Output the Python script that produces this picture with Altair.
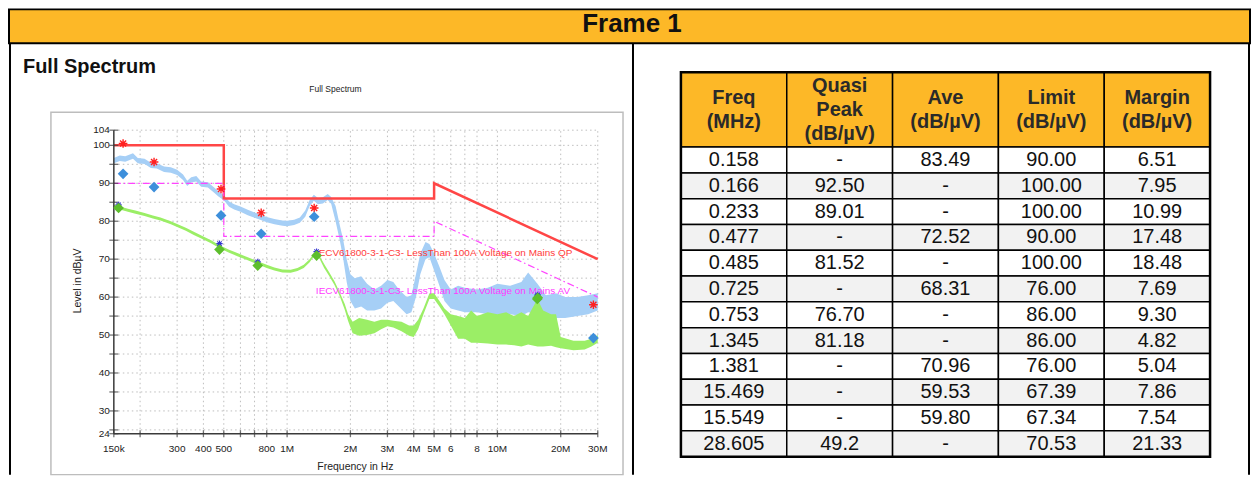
import altair as alt
import pandas as pd

FONT = "Liberation Sans, Arial, sans-serif"

# ---------------- Spectrum traces (MHz, dBµV: lower / upper envelope) ----------------
blue_f = [0.150, 0.160, 0.170, 0.185, 0.195, 0.210, 0.225, 0.240, 0.260, 0.280, 0.300, 0.320,
          0.335, 0.350, 0.370, 0.390, 0.420, 0.450, 0.470, 0.500, 0.530, 0.560, 0.600, 0.650,
          0.700, 0.750, 0.800, 0.870, 0.950, 1.000, 1.080, 1.150, 1.220, 1.280, 1.340, 1.400,
          1.480, 1.560, 1.620, 1.700, 1.780, 1.850, 1.920, 2.000, 2.100, 2.250, 2.400, 2.600,
          2.800, 3.000, 3.200, 3.400, 3.700, 3.900, 4.100, 4.300, 4.550, 4.750, 5.000, 5.300,
          5.600, 6.000, 6.500, 7.000, 8.000, 9.000, 10.00, 11.50, 13.00, 14.00, 15.50, 17.00,
          19.00, 21.00, 24.00, 27.00, 30.00]
blue_lo = [95.3, 95.9, 95.7, 96.5, 95.3, 95.1, 94.0, 93.9, 93.0, 92.8, 92.2, 90.9,
           89.3, 90.2, 90.5, 89.1, 88.9, 87.5, 86.6, 85.5, 83.8, 83.1, 82.5, 81.6,
           80.9, 80.3, 79.7, 79.2, 78.8, 78.7, 79.0, 79.6, 81.2, 84.0, 85.4, 84.5,
           84.7, 85.6, 84.6, 80.0, 75.0, 70.0, 64.0, 59.0, 57.0, 57.5, 56.5, 56.5,
           57.0, 58.5, 59.0, 57.5, 55.5, 56.0, 60.0, 66.0, 70.0, 70.5, 67.0, 63.0,
           59.0, 57.0, 56.5, 56.0, 56.0, 55.5, 55.0, 55.5, 55.0, 56.0, 55.5, 54.5,
           54.5, 54.5, 55.0, 55.5, 56.5]
blue_hi = [96.7, 97.3, 97.1, 97.9, 96.7, 96.5, 95.4, 95.3, 94.4, 94.2, 93.6, 92.3,
           90.7, 91.6, 91.9, 90.5, 90.3, 88.9, 88.0, 86.9, 85.2, 84.5, 83.9, 83.0,
           82.3, 81.7, 81.1, 80.6, 80.2, 80.1, 80.4, 81.0, 82.8, 85.6, 87.0, 86.1,
           86.3, 87.2, 86.4, 84.0, 79.0, 75.0, 70.0, 66.0, 65.0, 65.5, 63.5, 62.0,
           63.0, 64.5, 64.0, 62.0, 60.0, 60.5, 66.0, 71.5, 74.5, 74.0, 71.5, 68.0,
           64.5, 62.0, 63.0, 62.5, 62.0, 62.5, 63.5, 63.0, 64.0, 66.5, 63.5, 60.5,
           61.0, 60.0, 60.0, 60.5, 61.0]

green_f = [0.150, 0.160, 0.175, 0.190, 0.210, 0.230, 0.250, 0.280, 0.300, 0.330, 0.360, 0.400,
           0.435, 0.480, 0.530, 0.580, 0.650, 0.720, 0.800, 0.870, 0.950, 1.040, 1.120, 1.200,
           1.280, 1.340, 1.380, 1.430, 1.500, 1.580, 1.680, 1.780, 1.880, 1.950, 2.050, 2.200,
           2.400, 2.600, 2.800, 3.000, 3.200, 3.500, 3.800, 4.000, 4.200, 4.450, 4.750, 5.000,
           5.300, 5.600, 6.000, 6.500, 7.000, 7.500, 8.000, 9.000, 10.00, 11.00, 12.00, 13.00,
           14.00, 15.50, 16.50, 18.00, 19.00, 20.00, 23.00, 26.00, 28.00, 30.00]
green_lo = [83.6, 83.1, 82.5, 82.0, 81.4, 80.7, 80.2, 79.2, 78.5, 77.5, 76.4, 75.2,
            74.2, 72.8, 71.7, 70.8, 69.7, 68.7, 67.7, 67.0, 66.5, 66.4, 66.9, 67.7,
            69.2, 70.7, 71.2, 70.0, 67.7, 65.7, 63.2, 60.2, 56.7, 53.7, 50.5, 49.8,
            50.0, 50.5, 51.5, 52.3, 52.0, 51.0, 49.8, 49.5, 51.5, 55.5, 59.5, 59.5,
            57.5, 55.5, 52.5, 49.0, 49.0, 48.0, 48.0, 47.8, 47.5, 47.5, 47.3, 47.0,
            47.5, 47.0, 47.0, 47.2, 46.8, 46.5, 46.0, 46.2, 47.0, 48.0]
green_hi = [84.4, 83.9, 83.3, 82.8, 82.2, 81.5, 81.0, 80.0, 79.3, 78.3, 77.2, 76.0,
            75.0, 73.6, 72.5, 71.6, 70.5, 69.5, 68.5, 67.8, 67.3, 67.2, 67.7, 68.5,
            70.0, 71.5, 72.0, 70.8, 68.7, 66.7, 64.2, 61.2, 58.2, 55.5, 53.5, 54.5,
            54.0, 53.5, 54.0, 54.0, 53.8, 53.5, 52.5, 52.5, 54.0, 57.0, 61.0, 61.0,
            59.0, 57.0, 55.5, 55.0, 54.5, 56.5, 55.0, 56.0, 55.5, 56.0, 55.0, 56.0,
            55.0, 59.5, 56.5, 55.5, 55.5, 49.5, 48.5, 48.5, 49.0, 50.0]

# ---------------- Limit lines ----------------
qp_lim_f = [0.15, 0.5, 0.5, 5, 5, 30]
qp_lim_v = [100, 100, 86, 86, 90, 70]
av_lim_f = [0.15, 0.5, 0.5, 5, 5, 30]
av_lim_v = [90, 90, 76, 76, 80, 60]
qp_lim_label = "IECV61800-3-1-C3- LessThan 100A Voltage on Mains QP"
av_lim_label = "IECV61800-3-1-C3- LessThan 100A Voltage on Mains AV"

# ---------------- Markers ----------------
peak_f = [0.166, 0.233, 0.485, 0.753, 1.345, 28.605]
peak_v = [100.5, 95.6, 88.5, 82.2, 83.5, 58.0]
qp_f = [0.166, 0.233, 0.485, 0.753, 1.345, 28.605]
qp_v = [92.50, 89.01, 81.52, 76.70, 81.18, 49.2]
av_f = [0.158, 0.477, 0.725, 1.381, 15.469, 15.549]
av_v = [83.49, 72.52, 68.31, 70.96, 59.53, 59.80]
avpk_v = [84.3, 74.1, 69.3, 72.0, 60.3, 60.6]

# ---------------- Axis ticks / labels ----------------
x_tick_f = [0.15, 0.2, 0.3, 0.4, 0.5, 0.6, 0.7, 0.8, 1, 2, 3, 4, 5, 6, 7, 8, 10, 20, 30]
x_label_f = [0.15, 0.3, 0.4, 0.5, 0.8, 1, 2, 3, 4, 5, 6, 8, 10, 20, 30]
x_label_t = ["150k", "300", "400", "500", "800", "1M", "2M", "3M", "4M", "5M", "6", "8",
             "10M", "20M", "30M"]
y_tick_v = [24, 25, 30, 35, 40, 45, 50, 55, 60, 65, 70, 75, 80, 85, 90, 95, 100, 104]
y_label_v = [24, 30, 40, 50, 60, 70, 80, 90, 100, 104]
y_grid_v = [25, 30, 35, 40, 45, 50, 55, 60, 65, 70, 75, 80, 85, 90, 95, 100, 104]
F_MIN, F_MAX = 0.15, 30
V_MIN, V_MAX = 24, 104

# ---------------- Table ----------------
col_heads = [["Freq", "(MHz)"], ["Quasi", "Peak", "(dB/µV)"], ["Ave", "(dB/µV)"],
             ["Limit", "(dB/µV)"], ["Margin", "(dB/µV)"]]
t_freq = ["0.158", "0.166", "0.233", "0.477", "0.485", "0.725", "0.753", "1.345", "1.381",
          "15.469", "15.549", "28.605"]
t_qp = ["-", "92.50", "89.01", "-", "81.52", "-", "76.70", "81.18", "-", "-", "-", "49.2"]
t_ave = ["83.49", "-", "-", "72.52", "-", "68.31", "-", "-", "70.96", "59.53", "59.80", "-"]
t_lim = ["90.00", "100.00", "100.00", "90.00", "100.00", "76.00", "86.00", "86.00", "76.00",
         "67.39", "67.34", "70.53"]
t_mar = ["6.51", "7.95", "10.99", "17.48", "18.48", "7.69", "9.30", "4.82", "5.04", "7.86",
         "7.54", "21.33"]

ORANGE = "#FDB827"
one = pd.DataFrame({"a": [0]})

# ================= Left panel: spectrum =================
XS = alt.Scale(type="log", domain=[F_MIN, F_MAX], range=[105, 589.7], nice=False)
YS = alt.Scale(domain=[V_MIN, V_MAX], range=[391, 87], nice=False, zero=False)


def X(f="f"):
    return alt.X(f"{f}:Q", scale=XS, axis=None)


def Y(f="v"):
    return alt.Y(f"{f}:Q", scale=YS, axis=None)


def deco_text(text, x, y, **kw):
    return alt.Chart(one).mark_text(text=text, font=FONT, **kw).encode(
        x=alt.value(x), y=alt.value(y))


left_border = alt.Chart(one).mark_rule(color="black", strokeWidth=2).encode(
    x=alt.value(1), y=alt.value(0), y2=alt.value(432))
inner_box = alt.Chart(one).mark_rect(fillOpacity=0, stroke="#BDBDBD", strokeWidth=1.5).encode(
    x=alt.value(42), x2=alt.value(615), y=alt.value(69), y2=alt.value(432))
heading = deco_text("Full Spectrum", 14, 24, fontSize=20, fontWeight="bold", align="left",
                    baseline="middle", color="#111")
small_title = deco_text("Full Spectrum", 327, 46, fontSize=8.5, align="center",
                        baseline="middle", color="#222")
x_title = deco_text("Frequency in Hz", 347, 424, fontSize=10.5, align="center",
                    baseline="middle", color="#222")
y_title = deco_text("Level in dBµV", 69, 238, fontSize=10.5, align="center",
                    baseline="middle", angle=270, color="#222")

vgrid = alt.Chart(pd.DataFrame({"f": x_tick_f[1:], "a": V_MIN, "b": V_MAX})).mark_rule(
    color="#BEBEBE", strokeDash=[1.5, 3], strokeWidth=1).encode(x=X(), y=Y("a"), y2="b:Q")
hgrid = alt.Chart(pd.DataFrame({"v": y_grid_v, "a": F_MIN, "b": F_MAX})).mark_rule(
    color="#BEBEBE", strokeDash=[1.5, 3], strokeWidth=1).encode(y=Y(), x=X("a"), x2="b:Q")

blue = alt.Chart(pd.DataFrame({"f": blue_f, "lo": blue_lo, "hi": blue_hi})).mark_area(
    color="#A6CFF6").encode(x=X(), y=Y("lo"), y2="hi:Q")
green = alt.Chart(pd.DataFrame({"f": green_f, "lo": green_lo, "hi": green_hi})).mark_area(
    color="#9BEE66").encode(x=X(), y=Y("lo"), y2="hi:Q")

qp_line = alt.Chart(pd.DataFrame({"f": qp_lim_f, "v": qp_lim_v, "o": range(6)})).mark_line(
    color="#FF4646", strokeWidth=2.5).encode(x=X(), y=Y(), order="o:Q")
av_line = alt.Chart(pd.DataFrame({"f": av_lim_f, "v": av_lim_v, "o": range(6)})).mark_line(
    color="#FF44FF", strokeWidth=1.2, strokeDash=[7, 3, 1.5, 3]).encode(x=X(), y=Y(), order="o:Q")
lim_labels = alt.Chart(pd.DataFrame({"f": [1.37, 1.37], "v": [71.6, 61.6],
                                     "t": [qp_lim_label, av_lim_label],
                                     "c": ["#FF3B3B", "#FF3BFF"]})).mark_text(
    align="left", baseline="middle", fontSize=10, font=FONT).encode(
    x=X(), y=Y(), text="t:N", color=alt.Color("c:N", scale=None))

axes_df = pd.DataFrame({"f1": [F_MIN, F_MIN], "f2": [F_MAX, F_MIN],
                        "v1": [V_MIN, V_MIN], "v2": [V_MIN, V_MAX]})
axes = alt.Chart(axes_df).mark_rule(color="#3A3A3A", strokeWidth=1.5).encode(
    x=X("f1"), x2="f2:Q", y=Y("v1"), y2="v2:Q")
xticks = alt.Chart(pd.DataFrame({"f": x_tick_f})).mark_tick(
    orient="vertical", size=7, thickness=1.3, color="#3A3A3A").encode(x=X(), y=alt.value(391))
yticks = alt.Chart(pd.DataFrame({"v": y_tick_v})).mark_tick(
    orient="horizontal", size=9, thickness=1.3, color="#3A3A3A").encode(y=Y(), x=alt.value(105))
xlabels = alt.Chart(pd.DataFrame({"f": x_label_f, "t": x_label_t})).mark_text(
    fontSize=10, font=FONT, color="#222", baseline="middle").encode(
    x=X(), y=alt.value(406), text="t:N")
ylabels = alt.Chart(pd.DataFrame({"v": y_label_v})).mark_text(
    fontSize=10, font=FONT, color="#222", baseline="middle", align="right").encode(
    y=Y(), x=alt.value(101), text="v:Q")

STAR = "M-1,0L1,0M0,-1L0,1M-0.7,-0.7L0.7,0.7M-0.7,0.7L0.7,-0.7"
peaks = alt.Chart(pd.DataFrame({"f": peak_f, "v": peak_v})).mark_point(
    shape=STAR, size=75, color="#FF2020", strokeWidth=1.4, opacity=1).encode(x=X(), y=Y())
avpk = alt.Chart(pd.DataFrame({"f": av_f, "v": avpk_v})).mark_point(
    shape=STAR, size=40, color="#3535D0", strokeWidth=1.1, opacity=1).encode(x=X(), y=Y())
qp_pts = alt.Chart(pd.DataFrame({"f": qp_f, "v": qp_v})).mark_point(
    shape="diamond", filled=True, size=115, color="#3D8FDB", opacity=1).encode(x=X(), y=Y())
av_pts = alt.Chart(pd.DataFrame({"f": av_f, "v": av_v})).mark_point(
    shape="diamond", filled=True, size=115, color="#5DBE2C", opacity=1).encode(x=X(), y=Y())

left = alt.layer(
    left_border, inner_box, heading, small_title, vgrid, hgrid, blue, green,
    qp_line, av_line, lim_labels, axes, xticks, yticks, xlabels, ylabels,
    x_title, y_title, peaks, qp_pts, avpk, av_pts
).properties(width=624, height=432)

# ================= Right panel: table =================
HEAD_TOP = -2.9
LINE_STEP = 0.93  # header line spacing in row units
TX = alt.Scale(domain=[0, 5], range=[49, 579], nice=False, zero=False)
TY = alt.Scale(domain=[HEAD_TOP, 12], range=[29, 414], nice=False, zero=False)
cols = [t_freq, t_qp, t_ave, t_lim, t_mar]
cell_rows, head_lines, body_rows = [], [], []
for c in range(5):
    cell_rows.append({"x0": c, "x1": c + 1, "y0": HEAD_TOP, "y1": 0, "fill": ORANGE})
    n = len(col_heads[c])
    for i, line in enumerate(col_heads[c]):
        head_lines.append({"xm": c + 0.5, "ym": HEAD_TOP / 2 + (i - (n - 1) / 2) * LINE_STEP,
                           "t": line})
    for r in range(12):
        cell_rows.append({"x0": c, "x1": c + 1, "y0": r, "y1": r + 1,
                          "fill": "#FFFFFF" if r % 2 == 0 else "#F2F2F2"})
        body_rows.append({"xm": c + 0.5, "ym": r + 0.5, "t": cols[c][r]})
cells = pd.DataFrame(cell_rows)
heads = pd.DataFrame(head_lines)
body = pd.DataFrame(body_rows)

cell_rect = alt.Chart(cells).mark_rect(stroke="black", strokeWidth=1.5).encode(
    x=alt.X("x0:Q", scale=TX, axis=None), x2="x1:Q",
    y=alt.Y("y0:Q", scale=TY, axis=None), y2="y1:Q",
    fill=alt.Fill("fill:N", scale=None))
outer = alt.Chart(pd.DataFrame({"x0": [0], "x1": [5], "y0": [HEAD_TOP], "y1": [12]})).mark_rect(
    fillOpacity=0, stroke="black", strokeWidth=2.5).encode(
    x=alt.X("x0:Q", scale=TX, axis=None), x2="x1:Q",
    y=alt.Y("y0:Q", scale=TY, axis=None), y2="y1:Q")
head_text = alt.Chart(heads).mark_text(
    font=FONT, fontSize=20, fontWeight="bold", color="#2A2A2A", baseline="middle").encode(
    x=alt.X("xm:Q", scale=TX, axis=None), y=alt.Y("ym:Q", scale=TY, axis=None), text="t:N")
body_text = alt.Chart(body).mark_text(
    font=FONT, fontSize=20, color="#111", baseline="middle").encode(
    x=alt.X("xm:Q", scale=TX, axis=None), y=alt.Y("ym:Q", scale=TY, axis=None), text="t:N")
borders = alt.Chart(pd.DataFrame({"x": [1, 618]})).mark_rule(color="black", strokeWidth=2).encode(
    x=alt.X("x:Q", scale=None, axis=None), y=alt.value(0), y2=alt.value(432))

right = alt.layer(borders, cell_rect, outer, head_text, body_text).properties(
    width=619, height=432)

# ================= Header =================
header = alt.Chart(pd.DataFrame({"t": ["Frame 1"]})).mark_text(
    font=FONT, fontSize=26, fontWeight="bold", color="#111", baseline="middle").encode(
    text="t:N", x=alt.value(624), y=alt.value(15)).properties(
    width=1243, height=34,
    view=alt.ViewBackground(fill=ORANGE, stroke="black", strokeWidth=2))

chart = alt.vconcat(
    header,
    alt.hconcat(left, right, spacing=0, bounds="flush").resolve_scale(
        x="independent", y="independent"),
    spacing=0, bounds="flush"
).properties(padding=0).configure_view(strokeWidth=0)

chart.save("out.html", embed_options={"renderer": "svg", "actions": False})
